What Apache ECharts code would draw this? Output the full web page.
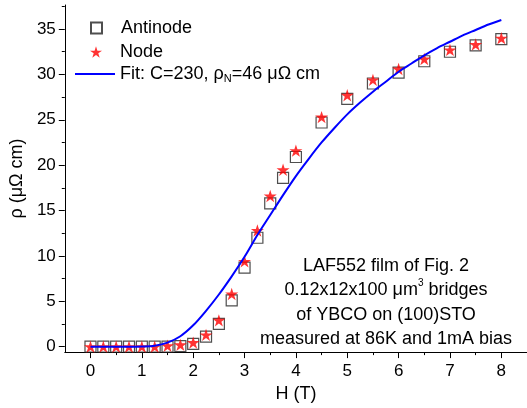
<!DOCTYPE html>
<html>
<head>
<meta charset="utf-8">
<script src="https://cdn.jsdelivr.net/npm/echarts@6/dist/echarts.min.js"></script>
<style>
html,body{margin:0;padding:0;background:#fff;}
#chart{width:527px;height:408px;}
</style>
</head>
<body>
<div id="chart"></div>
<script>
// ---- data ----
const fieldH = [0,0.25,0.5,0.75,1,1.25,1.5,1.75,2,2.25,2.5,2.75,3,3.25,3.5,3.75,4,4.5,5,5.5,6,6.5,7,7.5,8];
const antinodeRho = [0,0,0,0,0,0,0,0.05,0.3,1.1,2.5,5.1,8.7,12.0,15.8,18.6,20.9,24.7,27.3,29.0,30.2,31.45,32.5,33.2,33.9];
const nodeRho = [0,0,0,0,0,0,0.1,0.2,0.45,1.3,2.9,5.8,9.4,12.8,16.6,19.5,21.6,25.3,27.7,29.4,30.6,31.7,32.7,33.3,34.0];
const fitH = [0,0.25,0.5,0.75,1,1.25,1.5,1.75,2,2.25,2.5,2.75,3,3.25,3.5,3.75,4,4.25,4.5,4.75,5,5.25,5.5,5.75,6,6.25,6.5,6.75,7,7.25,7.5,7.75,8];
const fitRho = [0,0,0,0,0.02,0.1,0.45,1.15,2.35,3.95,5.75,7.75,9.9,12.3,14.5,16.7,18.8,20.7,22.5,24.1,25.6,26.9,28.1,29.2,30.3,31.2,32.1,32.9,33.6,34.3,34.9,35.5,36.0];
const xMajorTicks = [0,1,2,3,4,5,6,7,8];
const xMinorTicks = [0.5,1.5,2.5,3.5,4.5,5.5,6.5,7.5];
const yMajorTicks = [0,5,10,15,20,25,30,35];
const yMinorTicks = [2.5,7.5,12.5,17.5,22.5,27.5,32.5,37.5];
const seriesNames = ['Antinode','Node','Fit'];

const FONT = 'Liberation Sans, Arial, sans-serif';
const STAR = 'path://M50,0 L61.2,34.5 L97.6,34.5 L68.2,55.9 L79.4,90.5 L50,69.1 L20.6,90.5 L31.8,55.9 L2.4,34.5 L38.8,34.5 Z';

const chart = echarts.init(document.getElementById('chart'), null, {renderer:'canvas'});
const axisLineStyle = {color:'#000', width:1};
const legendText = {fontFamily:FONT, fontSize:18, color:'#000', padding:[0,0,0,14]};
chart.setOption({
  animation:false,
  backgroundColor:'#fff',
  grid:{left:64, top:5, right:0, bottom:49, containLabel:false},
  legend:[
    {orient:'vertical', left:90, top:19, itemWidth:11, itemHeight:11, padding:0,
     textStyle:legendText, data:[seriesNames[0]]},
    {orient:'vertical', left:90, top:43, itemWidth:12, itemHeight:12, padding:0,
     textStyle:Object.assign({}, legendText, {padding:[0,0,0,13]}), data:[seriesNames[1]]},
    {orient:'vertical', left:75, top:65, itemWidth:40, itemHeight:2, padding:0, icon:'rect',
     data:[seriesNames[2]],
     formatter:()=> '{a|Fit: C=230, ρ}{s|N}{a|=46 μΩ cm}',
     textStyle:{fontFamily:FONT, fontSize:18, color:'#000',
        rich:{a:{fontFamily:FONT, fontSize:18, color:'#000'},
              s:{fontFamily:FONT, fontSize:11, color:'#000', verticalAlign:'bottom', padding:[9,0,0,0]}}}}
  ],
  xAxis:[{
    type:'value', min:-0.5, max:8.5,
    name:'H (T)', nameLocation:'middle', nameGap:24,
    nameTextStyle:{fontFamily:FONT, fontSize:18, color:'#000'},
    axisLine:{show:true, onZero:false, lineStyle:axisLineStyle},
    axisTick:{show:true, length:6, customValues:xMajorTicks, lineStyle:axisLineStyle},
    axisLabel:{customValues:xMajorTicks, margin:11, fontFamily:FONT, fontSize:17, color:'#000'},
    splitLine:{show:false}
  },{
    type:'value', min:-0.5, max:8.5, position:'bottom',
    axisLine:{show:false, onZero:false},
    axisTick:{show:true, length:3, customValues:xMinorTicks, lineStyle:axisLineStyle},
    axisLabel:{show:false}, splitLine:{show:false}
  }],
  yAxis:[{
    type:'value', min:-0.6, max:37.65,
    name:'ρ (μΩ cm)', nameLocation:'middle', nameGap:34, nameRotate:90,
    nameTextStyle:{fontFamily:FONT, fontSize:18, color:'#000'},
    axisLine:{show:true, onZero:false, lineStyle:axisLineStyle},
    axisTick:{show:true, length:6, customValues:yMajorTicks, lineStyle:axisLineStyle},
    axisLabel:{customValues:yMajorTicks, margin:9, fontFamily:FONT, fontSize:17, color:'#000'},
    splitLine:{show:false}
  },{
    type:'value', min:-0.6, max:37.65, position:'left',
    axisLine:{show:false, onZero:false},
    axisTick:{show:true, length:3, customValues:yMinorTicks, lineStyle:axisLineStyle},
    axisLabel:{show:false}, splitLine:{show:false}
  }],
  graphic:[{
    type:'text', x:386, y:254, z:10,
    style:{
      text:'{t|LAF552 film of Fig. 2}\n{t|0.12x12x100 μm}{sup|3}{t| bridges}\n{t|of YBCO on (100)STO}\n{t|measured at 86K and 1mA bias}',
      align:'center', verticalAlign:'top', fill:'#000',
      font:'18px ' + FONT, lineHeight:24.3,
      rich:{t:{fontFamily:FONT, fontSize:18, lineHeight:24.3, fill:'#000'},
            sup:{fontFamily:FONT, fontSize:10, lineHeight:24.3, fill:'#000', verticalAlign:'top', padding:[0,0,10,0]}}
    }
  }],
  series:[{
    name:seriesNames[0], type:'scatter', xAxisIndex:0, yAxisIndex:0,
    symbol:'rect', symbolSize:11,
    itemStyle:{color:'rgba(255,255,255,0)', borderColor:'#222', borderWidth:1.2},
    data:fieldH.map((h,i)=>[h, antinodeRho[i]]), z:2
  },{
    name:seriesNames[1], type:'scatter', xAxisIndex:0, yAxisIndex:0,
    symbol:STAR, symbolSize:13, symbolKeepAspect:true,
    itemStyle:{color:'#ff0000'},
    data:fieldH.map((h,i)=>[h, nodeRho[i]]), z:3
  },{
    name:seriesNames[2], type:'line', xAxisIndex:0, yAxisIndex:0,
    symbol:'none', showSymbol:false, smooth:0.3,
    lineStyle:{color:'#0000ff', width:2},
    itemStyle:{color:'#0000ff'},
    data:fitH.map((h,i)=>[h, fitRho[i]]), z:4
  }]
});
</script>
</body>
</html>
